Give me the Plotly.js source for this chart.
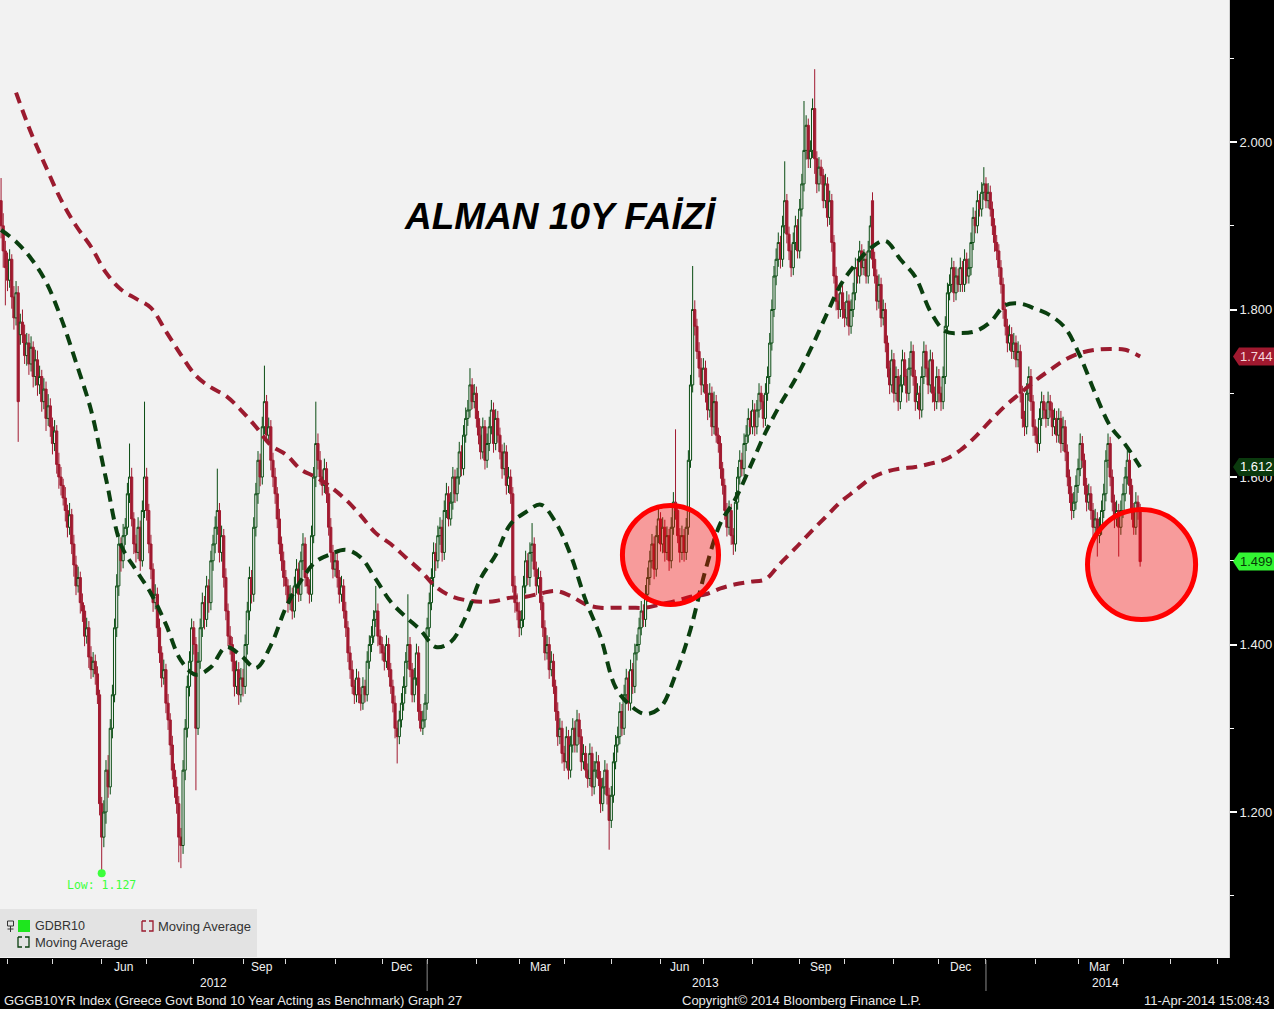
<!DOCTYPE html>
<html><head><meta charset="utf-8">
<script src="https://cdn.plot.ly/plotly-3.0.1.min.js"></script>
<style>html,body{margin:0;padding:0;background:#000;}#chart{width:1274px;height:1009px;}</style>
</head><body><div id="chart"></div>
<script>
// ---- Daily GDBR10 bars (one line per week), from 2012-03-28 to 2014-04-11 ----
const startDate = '2012-03-28';
const openV = [
1.930,1.900,1.870,
1.850,1.835,1.860,1.815,1.790,
1.820,1.770,1.785,1.770,1.745,
1.760,1.735,1.755,1.720,1.740,
1.710,1.720,1.690,1.705,1.670,
1.685,1.660,1.640,1.655,1.615,
1.600,1.590,1.575,1.560,1.540,
1.555,1.520,1.495,1.470,1.480,
1.450,1.440,1.410,1.420,1.385,
1.370,1.380,1.365,1.340,1.210,
1.170,1.200,1.250,1.230,1.300,
1.340,1.420,1.470,1.520,1.500,
1.530,1.540,1.580,1.600,1.550,
1.520,1.510,1.540,1.500,1.560,
1.600,1.560,1.520,1.490,1.450,
1.460,1.420,1.390,1.360,1.370,
1.330,1.310,1.280,1.250,1.230,
1.210,1.170,1.160,1.250,1.300,
1.350,1.380,1.420,1.400,1.300,
1.380,1.420,1.450,1.430,1.470,
1.450,1.500,1.520,1.540,1.560,
1.510,1.530,1.480,1.440,1.410,
1.400,1.380,1.350,1.370,1.340,
1.360,1.350,1.400,1.440,1.480,
1.460,1.540,1.580,1.620,1.600,
1.660,1.690,1.650,1.660,1.620,
1.600,1.580,1.550,1.520,1.500,
1.480,1.470,1.450,1.460,1.440,
1.470,1.490,1.460,1.500,1.520,
1.480,1.470,1.460,1.530,1.600,
1.640,1.620,1.600,1.590,1.610,
1.580,1.540,1.510,1.490,1.500,
1.480,1.460,1.470,1.440,1.420,
1.390,1.370,1.350,1.340,1.360,
1.340,1.330,1.350,1.340,1.380,
1.400,1.410,1.430,1.440,1.410,
1.400,1.390,1.380,1.400,1.370,
1.350,1.330,1.300,1.290,1.310,
1.330,1.350,1.380,1.400,1.370,
1.340,1.360,1.390,1.320,1.300,
1.310,1.330,1.420,1.450,1.480,
1.510,1.500,1.530,1.540,1.510,
1.560,1.580,1.550,1.570,1.600,
1.580,1.600,1.630,1.610,1.650,
1.670,1.680,1.710,1.690,1.700,
1.670,1.650,1.630,1.660,1.620,
1.640,1.660,1.680,1.640,1.670,
1.650,1.630,1.610,1.630,1.590,
1.600,1.580,1.470,1.450,1.440,
1.420,1.430,1.470,1.500,1.480,
1.510,1.520,1.490,1.470,1.480,
1.450,1.420,1.390,1.400,1.370,
1.380,1.350,1.320,1.290,1.300,
1.270,1.260,1.290,1.250,1.280,
1.300,1.280,1.310,1.290,1.260,
1.270,1.250,1.240,1.270,1.230,
1.250,1.260,1.240,1.210,1.230,
1.250,1.220,1.190,1.220,1.260,
1.280,1.290,1.320,1.300,1.340,
1.360,1.330,1.370,1.350,1.390,
1.400,1.420,1.440,1.430,1.460,
1.480,1.500,1.520,1.490,1.530,
1.550,1.520,1.540,1.510,1.530,
1.500,1.540,1.570,1.560,1.530,
1.510,1.530,1.510,1.540,1.620,
1.710,1.800,1.780,1.750,1.730,
1.710,1.730,1.700,1.680,1.700,
1.660,1.690,1.650,1.640,1.610,
1.590,1.560,1.540,1.560,1.530,
1.520,1.570,1.600,1.620,1.610,
1.640,1.650,1.670,1.660,1.680,
1.660,1.680,1.700,1.690,1.670,
1.700,1.720,1.760,1.800,1.840,
1.860,1.880,1.860,1.900,1.930,
1.890,1.870,1.850,1.880,1.900,
1.870,1.920,1.950,1.990,2.020,
1.980,1.990,2.040,1.980,1.950,
1.970,1.960,1.930,1.950,1.910,
1.930,1.880,1.840,1.810,1.800,
1.820,1.800,1.790,1.810,1.780,
1.800,1.820,1.850,1.840,1.870,
1.850,1.860,1.840,1.870,1.930,
1.860,1.840,1.810,1.830,1.790,
1.800,1.760,1.730,1.710,1.740,
1.700,1.720,1.690,1.710,1.740,
1.720,1.700,1.730,1.750,1.720,
1.690,1.700,1.680,1.720,1.750,
1.730,1.710,1.740,1.700,1.690,
1.720,1.700,1.690,1.720,1.780,
1.820,1.830,1.850,1.820,1.840,
1.830,1.850,1.830,1.860,1.840,
1.850,1.880,1.910,1.900,1.930,
1.920,1.940,1.950,1.930,1.940,
1.920,1.900,1.880,1.870,1.850,
1.830,1.800,1.780,1.760,1.770,
1.750,1.760,1.740,1.750,1.700,
1.670,1.660,1.700,1.720,1.690,
1.660,1.650,1.640,1.670,1.690,
1.680,1.670,1.690,1.680,1.660,
1.670,1.650,1.670,1.640,1.660,
1.630,1.600,1.580,1.560,1.570,
1.590,1.610,1.640,1.620,1.590,
1.570,1.580,1.560,1.540,1.550,
1.530,1.540,1.560,1.580,1.620,
1.640,1.600,1.570,1.550,1.560,
1.540,1.560,1.580,1.600,1.620,
1.590,1.560,1.540,1.570,1.560
];
const highV = [
1.957,1.915,1.882,
1.868,1.872,1.866,1.828,1.834,
1.828,1.795,1.800,1.782,1.772,
1.771,1.768,1.762,1.752,1.751,
1.733,1.728,1.718,1.714,1.699,
1.694,1.671,1.668,1.662,1.629,
1.612,1.598,1.588,1.567,1.569,
1.562,1.531,1.506,1.493,1.487,
1.461,1.447,1.432,1.428,1.398,
1.391,1.388,1.374,1.346,1.218,
1.214,1.262,1.268,1.311,1.352,
1.431,1.484,1.533,1.528,1.544,
1.551,1.593,1.640,1.611,1.558,
1.531,1.552,1.548,1.572,1.690,
1.611,1.568,1.531,1.497,1.472,
1.468,1.431,1.398,1.382,1.377,
1.341,1.318,1.291,1.258,1.242,
1.219,1.181,1.262,1.311,1.363,
1.392,1.431,1.428,1.409,1.391,
1.431,1.462,1.458,1.482,1.478,
1.512,1.531,1.553,1.610,1.569,
1.542,1.538,1.491,1.449,1.422,
1.409,1.392,1.381,1.379,1.372,
1.371,1.412,1.451,1.493,1.489,
1.552,1.593,1.631,1.628,1.672,
1.733,1.698,1.671,1.668,1.629,
1.611,1.588,1.562,1.529,1.511,
1.489,1.478,1.471,1.468,1.481,
1.502,1.498,1.511,1.533,1.528,
1.489,1.478,1.542,1.612,1.690,
1.652,1.631,1.609,1.622,1.618,
1.588,1.551,1.519,1.512,1.509,
1.489,1.482,1.478,1.451,1.428,
1.398,1.381,1.358,1.371,1.368,
1.349,1.361,1.358,1.392,1.411,
1.422,1.441,1.470,1.449,1.418,
1.409,1.398,1.411,1.408,1.378,
1.358,1.339,1.309,1.321,1.342,
1.362,1.391,1.460,1.409,1.378,
1.372,1.401,1.398,1.329,1.321,
1.341,1.432,1.462,1.491,1.522,
1.521,1.542,1.552,1.549,1.572,
1.593,1.589,1.582,1.612,1.609,
1.611,1.642,1.638,1.662,1.683,
1.692,1.730,1.718,1.711,1.708,
1.679,1.661,1.671,1.668,1.652,
1.672,1.692,1.689,1.681,1.679,
1.659,1.639,1.641,1.638,1.612,
1.609,1.588,1.482,1.461,1.451,
1.441,1.482,1.512,1.509,1.522,
1.545,1.528,1.499,1.492,1.488,
1.458,1.429,1.411,1.409,1.392,
1.389,1.358,1.331,1.312,1.309,
1.279,1.302,1.298,1.291,1.312,
1.309,1.322,1.318,1.299,1.281,
1.279,1.258,1.282,1.278,1.261,
1.272,1.268,1.249,1.241,1.262,
1.258,1.229,1.231,1.271,1.292,
1.302,1.331,1.329,1.352,1.371,
1.368,1.382,1.378,1.401,1.412,
1.432,1.452,1.448,1.471,1.492,
1.512,1.532,1.529,1.542,1.562,
1.558,1.552,1.549,1.541,1.538,
1.552,1.582,1.657,1.568,1.539,
1.542,1.538,1.551,1.632,1.722,
1.852,1.811,1.789,1.761,1.742,
1.742,1.739,1.711,1.712,1.708,
1.702,1.698,1.659,1.649,1.618,
1.598,1.569,1.572,1.568,1.539,
1.582,1.612,1.632,1.629,1.652,
1.662,1.682,1.679,1.692,1.688,
1.692,1.712,1.709,1.698,1.712,
1.732,1.772,1.812,1.852,1.873,
1.892,1.888,1.912,1.977,1.938,
1.899,1.878,1.892,1.912,1.908,
1.932,1.962,2.049,2.032,2.028,
2.002,2.052,2.087,1.989,1.982,
1.979,1.968,1.962,1.958,1.942,
1.938,1.889,1.851,1.819,1.832,
1.829,1.809,1.822,1.818,1.812,
1.832,1.862,1.858,1.882,1.878,
1.872,1.869,1.882,1.912,1.940,
1.869,1.848,1.842,1.838,1.812,
1.808,1.769,1.739,1.752,1.748,
1.732,1.729,1.722,1.752,1.749,
1.729,1.742,1.762,1.758,1.728,
1.712,1.709,1.732,1.762,1.758,
1.739,1.752,1.749,1.708,1.732,
1.729,1.708,1.732,1.792,1.832,
1.842,1.862,1.858,1.851,1.849,
1.862,1.858,1.872,1.868,1.861,
1.892,1.922,1.918,1.942,1.938,
1.952,1.970,1.958,1.951,1.948,
1.929,1.909,1.889,1.878,1.859,
1.838,1.809,1.789,1.782,1.779,
1.772,1.769,1.762,1.758,1.709,
1.679,1.712,1.732,1.729,1.698,
1.669,1.659,1.682,1.702,1.698,
1.689,1.702,1.698,1.689,1.682,
1.679,1.682,1.679,1.672,1.668,
1.639,1.609,1.589,1.582,1.602,
1.622,1.652,1.649,1.628,1.599,
1.592,1.589,1.569,1.562,1.558,
1.552,1.572,1.592,1.632,1.652,
1.648,1.609,1.579,1.572,1.568,
1.572,1.592,1.612,1.632,1.628,
1.598,1.569,1.582,1.578,1.568
];
const lowV = [
1.885,1.850,1.805,
1.822,1.826,1.801,1.776,1.781,
1.642,1.758,1.760,1.735,1.733,
1.722,1.726,1.707,1.709,1.697,
1.699,1.678,1.681,1.655,1.661,
1.648,1.627,1.631,1.604,1.586,
1.578,1.566,1.547,1.528,1.531,
1.508,1.481,1.459,1.462,1.437,
1.427,1.398,1.401,1.372,1.359,
1.361,1.352,1.329,1.196,1.127,
1.158,1.186,1.217,1.221,1.288,
1.331,1.409,1.458,1.487,1.491,
1.519,1.531,1.569,1.541,1.508,
1.498,1.502,1.488,1.493,1.551,
1.548,1.509,1.478,1.439,1.442,
1.409,1.378,1.349,1.352,1.318,
1.298,1.268,1.239,1.217,1.198,
1.140,1.133,1.150,1.238,1.289,
1.338,1.369,1.388,1.226,1.292,
1.371,1.409,1.418,1.421,1.438,
1.441,1.488,1.509,1.531,1.498,
1.499,1.468,1.429,1.398,1.388,
1.368,1.338,1.341,1.328,1.331,
1.338,1.341,1.388,1.429,1.449,
1.451,1.529,1.568,1.589,1.591,
1.651,1.641,1.639,1.608,1.588,
1.568,1.539,1.508,1.488,1.469,
1.459,1.438,1.441,1.430,1.432,
1.461,1.451,1.452,1.489,1.469,
1.461,1.449,1.451,1.521,1.588,
1.609,1.591,1.578,1.581,1.569,
1.530,1.498,1.479,1.481,1.468,
1.449,1.451,1.431,1.409,1.379,
1.359,1.341,1.329,1.331,1.330,
1.321,1.322,1.331,1.332,1.371,
1.391,1.402,1.421,1.398,1.389,
1.381,1.369,1.372,1.361,1.341,
1.319,1.288,1.258,1.281,1.301,
1.321,1.341,1.371,1.361,1.331,
1.331,1.351,1.309,1.296,1.292,
1.301,1.322,1.409,1.441,1.469,
1.488,1.491,1.519,1.499,1.501,
1.551,1.541,1.542,1.561,1.569,
1.571,1.591,1.601,1.602,1.641,
1.661,1.671,1.681,1.682,1.659,
1.639,1.621,1.622,1.609,1.611,
1.631,1.651,1.629,1.632,1.641,
1.621,1.598,1.602,1.579,1.581,
1.568,1.462,1.438,1.429,1.409,
1.411,1.421,1.461,1.471,1.469,
1.499,1.481,1.459,1.461,1.441,
1.409,1.381,1.382,1.359,1.362,
1.341,1.309,1.279,1.281,1.258,
1.249,1.252,1.239,1.241,1.271,
1.271,1.271,1.281,1.249,1.251,
1.241,1.229,1.231,1.219,1.221,
1.241,1.231,1.199,1.201,1.221,
1.209,1.155,1.181,1.211,1.251,
1.271,1.281,1.291,1.292,1.331,
1.321,1.321,1.341,1.342,1.381,
1.391,1.411,1.421,1.421,1.451,
1.471,1.491,1.478,1.481,1.521,
1.511,1.509,1.499,1.501,1.488,
1.491,1.531,1.549,1.521,1.498,
1.501,1.499,1.501,1.531,1.611,
1.701,1.769,1.741,1.719,1.698,
1.701,1.689,1.668,1.671,1.649,
1.651,1.641,1.629,1.598,1.579,
1.549,1.529,1.531,1.519,1.507,
1.511,1.561,1.591,1.601,1.601,
1.631,1.641,1.651,1.651,1.649,
1.651,1.671,1.681,1.659,1.661,
1.691,1.711,1.751,1.791,1.829,
1.851,1.849,1.851,1.891,1.879,
1.859,1.839,1.841,1.871,1.861,
1.861,1.911,1.941,1.979,1.969,
1.969,1.981,1.962,1.939,1.941,
1.949,1.921,1.921,1.899,1.901,
1.869,1.831,1.799,1.789,1.791,
1.789,1.779,1.781,1.769,1.771,
1.791,1.811,1.831,1.831,1.841,
1.841,1.831,1.831,1.861,1.849,
1.831,1.799,1.801,1.779,1.781,
1.749,1.719,1.699,1.701,1.689,
1.691,1.679,1.681,1.701,1.709,
1.689,1.691,1.721,1.709,1.679,
1.681,1.669,1.671,1.711,1.719,
1.699,1.701,1.689,1.679,1.681,
1.689,1.679,1.681,1.711,1.771,
1.811,1.821,1.809,1.811,1.821,
1.821,1.821,1.821,1.831,1.831,
1.841,1.871,1.891,1.891,1.911,
1.911,1.931,1.921,1.921,1.911,
1.889,1.869,1.859,1.839,1.819,
1.789,1.769,1.749,1.751,1.741,
1.741,1.731,1.731,1.689,1.659,
1.649,1.651,1.691,1.679,1.649,
1.641,1.629,1.631,1.661,1.669,
1.659,1.661,1.671,1.649,1.651,
1.641,1.641,1.629,1.631,1.619,
1.589,1.569,1.549,1.551,1.561,
1.581,1.601,1.611,1.579,1.559,
1.561,1.549,1.529,1.531,1.505,
1.521,1.531,1.551,1.571,1.611,
1.589,1.559,1.539,1.541,1.505,
1.531,1.551,1.571,1.591,1.579,
1.549,1.531,1.531,1.549,1.493
];
const closeV = [
1.900,1.870,1.850,
1.835,1.860,1.815,1.790,1.820,
1.690,1.785,1.770,1.745,1.760,
1.735,1.755,1.720,1.740,1.710,
1.720,1.690,1.705,1.670,1.685,
1.660,1.640,1.655,1.615,1.600,
1.590,1.575,1.560,1.540,1.555,
1.520,1.495,1.470,1.480,1.450,
1.440,1.410,1.420,1.385,1.370,
1.380,1.365,1.340,1.210,1.170,
1.200,1.250,1.230,1.300,1.340,
1.420,1.470,1.520,1.500,1.530,
1.540,1.580,1.600,1.550,1.520,
1.510,1.540,1.500,1.560,1.600,
1.560,1.520,1.490,1.450,1.460,
1.420,1.390,1.360,1.370,1.330,
1.310,1.280,1.250,1.230,1.210,
1.170,1.160,1.250,1.300,1.350,
1.380,1.420,1.400,1.300,1.380,
1.420,1.450,1.430,1.470,1.450,
1.500,1.520,1.540,1.560,1.510,
1.530,1.480,1.440,1.410,1.400,
1.380,1.350,1.370,1.340,1.360,
1.350,1.400,1.440,1.480,1.460,
1.540,1.580,1.620,1.600,1.660,
1.690,1.650,1.660,1.620,1.600,
1.580,1.550,1.520,1.500,1.480,
1.470,1.450,1.460,1.440,1.470,
1.490,1.460,1.500,1.520,1.480,
1.470,1.460,1.530,1.600,1.640,
1.620,1.600,1.590,1.610,1.580,
1.540,1.510,1.490,1.500,1.480,
1.460,1.470,1.440,1.420,1.390,
1.370,1.350,1.340,1.360,1.340,
1.330,1.350,1.340,1.380,1.400,
1.410,1.430,1.440,1.410,1.400,
1.390,1.380,1.400,1.370,1.350,
1.330,1.300,1.290,1.310,1.330,
1.350,1.380,1.400,1.370,1.340,
1.360,1.390,1.320,1.300,1.310,
1.330,1.420,1.450,1.480,1.510,
1.500,1.530,1.540,1.510,1.560,
1.580,1.550,1.570,1.600,1.580,
1.600,1.630,1.610,1.650,1.670,
1.680,1.710,1.690,1.700,1.670,
1.650,1.630,1.660,1.620,1.640,
1.660,1.680,1.640,1.670,1.650,
1.630,1.610,1.630,1.590,1.600,
1.580,1.470,1.450,1.440,1.420,
1.430,1.470,1.500,1.480,1.510,
1.520,1.490,1.470,1.480,1.450,
1.420,1.390,1.400,1.370,1.380,
1.350,1.320,1.290,1.300,1.270,
1.260,1.290,1.250,1.280,1.300,
1.280,1.310,1.290,1.260,1.270,
1.250,1.240,1.270,1.230,1.250,
1.260,1.240,1.210,1.230,1.250,
1.220,1.190,1.220,1.260,1.280,
1.290,1.320,1.300,1.340,1.360,
1.330,1.370,1.350,1.390,1.400,
1.420,1.440,1.430,1.460,1.480,
1.500,1.520,1.490,1.530,1.550,
1.520,1.540,1.510,1.530,1.500,
1.540,1.570,1.560,1.530,1.510,
1.530,1.510,1.540,1.620,1.710,
1.800,1.780,1.750,1.730,1.710,
1.730,1.700,1.680,1.700,1.660,
1.690,1.650,1.640,1.610,1.590,
1.560,1.540,1.560,1.530,1.520,
1.570,1.600,1.620,1.610,1.640,
1.650,1.670,1.660,1.680,1.660,
1.680,1.700,1.690,1.670,1.700,
1.720,1.760,1.800,1.840,1.860,
1.880,1.860,1.900,1.930,1.890,
1.870,1.850,1.880,1.900,1.870,
1.920,1.950,1.990,2.020,1.980,
1.990,2.040,1.980,1.950,1.970,
1.960,1.930,1.950,1.910,1.930,
1.880,1.840,1.810,1.800,1.820,
1.800,1.790,1.810,1.780,1.800,
1.820,1.850,1.840,1.870,1.850,
1.860,1.840,1.870,1.900,1.860,
1.840,1.810,1.830,1.790,1.800,
1.760,1.730,1.710,1.740,1.700,
1.720,1.690,1.710,1.740,1.720,
1.700,1.730,1.750,1.720,1.690,
1.700,1.680,1.720,1.750,1.730,
1.710,1.740,1.700,1.690,1.720,
1.700,1.690,1.720,1.780,1.820,
1.830,1.850,1.820,1.840,1.830,
1.850,1.830,1.860,1.840,1.850,
1.880,1.910,1.900,1.930,1.920,
1.940,1.950,1.930,1.940,1.920,
1.900,1.880,1.870,1.850,1.830,
1.800,1.780,1.760,1.770,1.750,
1.760,1.740,1.750,1.700,1.670,
1.660,1.700,1.720,1.690,1.660,
1.650,1.640,1.670,1.690,1.680,
1.670,1.690,1.680,1.660,1.670,
1.650,1.670,1.640,1.660,1.630,
1.600,1.580,1.560,1.570,1.590,
1.610,1.640,1.620,1.590,1.570,
1.580,1.560,1.540,1.550,1.530,
1.540,1.560,1.580,1.620,1.640,
1.600,1.570,1.550,1.560,1.540,
1.560,1.580,1.600,1.620,1.590,
1.560,1.540,1.570,1.560,1.499
];

// ---- Moving averages, one reading every 7 trading days ----
const maStep = 7;
const maShort = [
1.895,1.881,1.861,1.833,1.790,1.737,1.680,1.598,1.519,1.489,
1.461,1.424,1.381,1.364,1.373,1.397,1.387,1.372,1.399,1.444,
1.476,1.499,1.508,1.513,1.504,1.478,1.451,1.433,1.417,1.397,
1.403,1.433,1.479,1.507,1.544,1.558,1.567,1.546,1.507,1.453,
1.409,1.349,1.327,1.317,1.325,1.364,1.418,1.489,1.545,1.574,
1.613,1.653,1.687,1.717,1.752,1.791,1.829,1.854,1.873,1.882,
1.860,1.839,1.798,1.774,1.772,1.774,1.785,1.805,1.807,1.801,
1.793,1.778,1.744,1.700,1.661,1.639,1.612];
const maLong = [
null,2.059,2.011,1.970,1.931,1.900,1.875,1.844,1.824,1.813,
1.802,1.774,1.746,1.721,1.707,1.697,1.680,1.660,1.638,1.627,
1.609,1.600,1.588,1.573,1.554,1.533,1.520,1.504,1.488,1.469,
1.458,1.453,1.451,1.452,1.456,1.457,1.461,1.464,1.458,1.448,
1.444,1.444,1.444,1.444,1.448,1.452,1.457,1.460,1.467,1.472,
1.475,1.478,1.497,1.515,1.534,1.552,1.570,1.584,1.598,1.606,
1.610,1.612,1.616,1.621,1.632,1.648,1.667,1.685,1.700,1.715,
1.728,1.740,1.748,1.752,1.753,1.752,1.744];

// ---- Axis labels ----
const monthStarts = ['2012-04-02','2012-05-01','2012-06-01','2012-07-02','2012-08-01','2012-09-03','2012-10-01','2012-11-01','2012-12-03','2013-01-01','2013-02-01','2013-03-01','2013-04-01','2013-05-01','2013-06-03','2013-07-01','2013-08-01','2013-09-02','2013-10-01','2013-11-01','2013-12-02','2014-01-01','2014-02-03','2014-03-03','2014-04-01','2014-05-01','2014-06-02'];
const monthLabels = ['Jun','Sep','Dec','Mar','Jun','Sep','Dec','Mar'];
const monthLabelDates = ['2012-06-15','2012-09-14','2012-12-14','2013-03-15','2013-06-14','2013-09-16','2013-12-16','2014-03-17'];
const yearLabels = ['2012','2013','2014'];
const yearLabelDates = ['2012-08-14','2013-07-02','2014-03-20'];
const yearBreaks = ['2013-01-01','2014-01-01'];
const yTicks = [1.2,1.4,1.6,1.8,2.0];

// ---- Highlight circles [x0,x1,y0,y1] ----
const circleX0 = ['2013-05-08 05:00','2014-03-07 10:00'];
const circleX1 = ['2013-07-10 02:00','2014-05-16 21:30'];
const circleY0 = [1.4478,1.4299];
const circleY1 = [1.5660,1.5612];

// ---- Build dates (trading days) ----
function weekdays(start, n){
  const out=[]; const d=new Date(start+'T00:00:00Z');
  while(out.length<n){ const w=d.getUTCDay(); if(w!==0&&w!==6) out.push(d.toISOString().slice(0,10)); d.setUTCDate(d.getUTCDate()+1); }
  return out;
}
const dates = weekdays(startDate, closeV.length);
const maDates = maShort.map((_,j)=>dates[Math.min(j*maStep, dates.length-1)]);

const PW=1229, PH=958;
const px = x => x/PW;
const py = y => 1 - y/PH;

const RED='#a11a30', DKGREEN='#0b4d14', MAGREEN='#0a3f0f', MARED='#9b1b2f';

const traces = [
 {type:'candlestick', x:dates, open:openV, high:highV, low:lowV, close:closeV,
  increasing:{line:{color:DKGREEN,width:1}, fillcolor:'#f2f2f2'},
  decreasing:{line:{color:RED,width:1}, fillcolor:RED},
  whiskerwidth:0, hoverinfo:'skip', showlegend:false},
 {type:'scatter', mode:'lines', x:maDates, y:maLong, line:{color:MARED,width:4,dash:'11px,7px',shape:'spline',smoothing:1}, hoverinfo:'skip', showlegend:false, connectgaps:false},
 {type:'scatter', mode:'lines', x:maDates, y:maShort, line:{color:MAGREEN,width:4,dash:'11px,7px',shape:'spline',smoothing:1}, hoverinfo:'skip', showlegend:false}
];

// low marker
let iMin=0; lowV.forEach((v,i)=>{ if(v<lowV[iMin]) iMin=i; });
traces.push({type:'scatter', mode:'markers', x:[dates[iMin]], y:[lowV[iMin]], marker:{color:'#3cff3c',size:8}, hoverinfo:'skip', showlegend:false});

const annotations = [];
const shapes = [];
const font = 'Liberation Sans, Arial, sans-serif';

annotations.push({xref:'paper', yref:'paper', x:px(560), y:py(217), xanchor:'center', yanchor:'middle', showarrow:false,
  text:'ALMAN 10Y FAİZİ', font:{family:'Liberation Sans Narrow, Liberation Sans, Arial', size:37, color:'#000', weight:'bold', style:'italic'}});

monthLabels.forEach((t,i)=>annotations.push({xref:'x', yref:'paper', x:monthLabelDates[i], y:py(967), yanchor:'middle', xanchor:'center', showarrow:false, text:t, font:{family:font,size:12,color:'#f0f0f0'}}));
yearLabels.forEach((t,i)=>annotations.push({xref:'x', yref:'paper', x:yearLabelDates[i], y:py(983), yanchor:'middle', xanchor:'center', showarrow:false, text:t, font:{family:font,size:12,color:'#f0f0f0'}}));
yearBreaks.forEach(d=>shapes.push({type:'line', xref:'x', yref:'paper', x0:d, x1:d, y0:py(960), y1:py(991), line:{color:'#8a8a8a',width:1}}));

annotations.push({xref:'paper', yref:'paper', x:px(2), y:py(1000), xanchor:'left', yanchor:'middle', showarrow:false, text:'GGGB10YR Index (Greece Govt Bond 10 Year Acting as Benchmark) Graph 27', font:{family:font,size:13,color:'#e8e8e8'}});
annotations.push({xref:'paper', yref:'paper', x:px(801), y:py(1000), xanchor:'center', yanchor:'middle', showarrow:false, text:'Copyright© 2014 Bloomberg Finance L.P.', font:{family:font,size:13,color:'#e8e8e8'}});
annotations.push({xref:'paper', yref:'paper', x:px(1272), y:py(1000), xanchor:'right', yanchor:'middle', showarrow:false, text:'11-Apr-2014 15:08:43', font:{family:font,size:13,color:'#e8e8e8'}});

// low label
annotations.push({xref:'x', yref:'y', x:dates[iMin], y:lowV[iMin], yanchor:'top', xanchor:'center', yshift:-3, showarrow:false,
  text:'Low: '+lowV[iMin].toFixed(3), font:{family:'DejaVu Sans Mono, monospace', size:11.5, color:'#3cff3c'}});

// legend box
shapes.push({type:'rect', xref:'paper', yref:'paper', x0:px(0), x1:px(257), y0:py(957), y1:py(909), fillcolor:'#e3e3e3', line:{width:0}, layer:'above'});
// tree icon
shapes.push({type:'rect', xref:'paper', yref:'paper', x0:px(7.5), x1:px(13.5), y0:py(926), y1:py(921), line:{color:'#333',width:1}, fillcolor:'rgba(0,0,0,0)', layer:'above'});
shapes.push({type:'line', xref:'paper', yref:'paper', x0:px(10.5), x1:px(10.5), y0:py(926), y1:py(932), line:{color:'#333',width:1}, layer:'above'});
shapes.push({type:'line', xref:'paper', yref:'paper', x0:px(7.5), x1:px(13.5), y0:py(929), y1:py(929), line:{color:'#333',width:1}, layer:'above'});
// green square
shapes.push({type:'rect', xref:'paper', yref:'paper', x0:px(18), x1:px(30), y0:py(932), y1:py(920), fillcolor:'#1ee61e', line:{width:0}, layer:'above'});
// bracket icons
function bracket(x, y, color){
  const a = [[x,y-5],[x,y+5],[x+4,y+5]];
  const b = [[x+7,y-5],[x+11,y-5],[x+11,y+5],[x+7,y+5]];
  const p1 = 'M'+a.map(q=>px(q[0])+','+py(q[1])).join(' L');
  const p2 = 'M'+b.map(q=>px(q[0])+','+py(q[1])).join(' L');
  const top = 'M'+px(x)+','+py(y-5)+' L'+px(x+4)+','+py(y-5);
  shapes.push({type:'path', xref:'paper', yref:'paper', path:p1+' '+p2+' '+top, line:{color:color,width:1.3}, layer:'above'});
}
bracket(142, 926, MARED);
bracket(18, 942, MAGREEN);
annotations.push({xref:'paper', yref:'paper', x:px(33), y:py(926), xanchor:'left', yanchor:'middle', showarrow:false, text:'GDBR10', font:{family:font,size:12.5,color:'#333'}});
annotations.push({xref:'paper', yref:'paper', x:px(156), y:py(926), xanchor:'left', yanchor:'middle', showarrow:false, text:'Moving Average', font:{family:font,size:13,color:'#333'}});
annotations.push({xref:'paper', yref:'paper', x:px(33), y:py(942), xanchor:'left', yanchor:'middle', showarrow:false, text:'Moving Average', font:{family:font,size:13,color:'#333'}});

// circles
circleX0.forEach((_,i)=>shapes.push({type:'circle', xref:'x', yref:'y', x0:circleX0[i], x1:circleX1[i], y0:circleY0[i], y1:circleY1[i],
  fillcolor:'rgba(255,0,0,0.36)', line:{color:'#ff0000',width:5}, layer:'above'}));

// right-hand value tags
const tags = [
  {v:maLong[maLong.length-1], bg:'#a0192f', fg:'#f6d6da'},
  {v:maShort[maShort.length-1], bg:'#0b3a0e', fg:'#ffffff'},
  {v:closeV[closeV.length-1], bg:'#33f533', fg:'#063b06'}
];
tags.forEach(t=>{
  shapes.push({type:'path', xref:'paper', yref:'y', xsizemode:'pixel', ysizemode:'pixel', xanchor:1, yanchor:t.v,
    path:'M4,0 L10,9 L46,9 L46,-9 L10,-9 Z', fillcolor:t.bg, line:{width:0}, layer:'above'});
  annotations.push({xref:'paper', yref:'y', x:1, y:t.v, xanchor:'left', yanchor:'middle', xshift:9, showarrow:false,
    text:t.v.toFixed(3), font:{family:font,size:13,color:t.fg}});
});

const layout = {
  width:1274, height:1009,
  margin:{l:0, r:45, t:0, b:51, pad:0},
  paper_bgcolor:'#000', plot_bgcolor:'#f2f2f2',
  showlegend:false, hovermode:false, dragmode:false,
  xaxis:{type:'date', range:['2012-03-27 12:00','2014-06-09 12:00'], rangebreaks:[{bounds:['sat','mon']}],
    rangeslider:{visible:false}, tickmode:'array', tickvals:monthStarts, ticktext:monthStarts.map(()=>''),
    ticks:'outside', ticklen:5, tickwidth:1, tickcolor:'#dddddd', showgrid:false, zeroline:false, showline:false, fixedrange:true},
  yaxis:{side:'right', range:[1.0257,2.1696], tickmode:'array', tickvals:yTicks, ticktext:yTicks.map(v=>v.toFixed(3)),
    ticks:'outside', ticklen:7, tickwidth:2, tickcolor:'#ffffff',
    minor:{tickmode:'array', tickvals:[1.1,1.3,1.5,1.7,1.9,2.1], ticks:'outside', ticklen:4, tickwidth:1, tickcolor:'#ffffff'},
    tickfont:{family:font,size:13,color:'#eeeeee'}, showgrid:false, zeroline:false, showline:true, linecolor:'#cfcfcf', linewidth:1, fixedrange:true},
  boxgap:0, boxgroupgap:0,
  annotations:annotations, shapes:shapes
};
Plotly.newPlot('chart', traces, layout, {staticPlot:true, displayModeBar:false});
</script>
</body></html>
